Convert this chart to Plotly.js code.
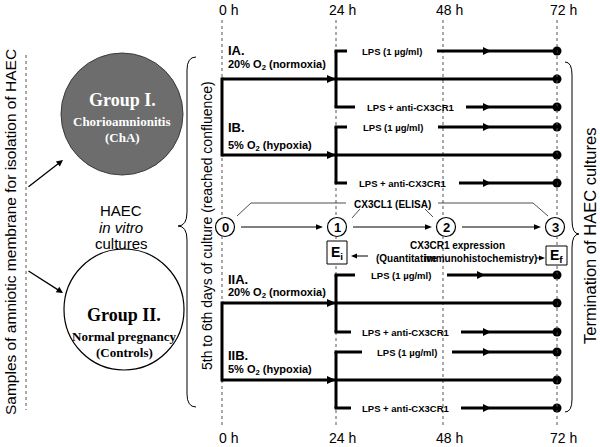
<!DOCTYPE html>
<html>
<head>
<meta charset="utf-8">
<script src="https://cdn.plot.ly/plotly-3.0.1.min.js"></script>
<style>
  html, body { margin: 0; padding: 0; background: #fff; }
  #chart { width: 600px; height: 447px; }
</style>
</head>
<body>
<div id="chart"></div>
<script>
// time axis
const hourLabels = ['0 h', '24 h', '48 h', '72 h'];
const hourX = [222, 336, 443, 557];

// culture arms
const arms = ['IA.', 'IB.', 'IIA.', 'IIB.'];
const oxygen = ['20% O<sub>2</sub> (normoxia)', '5% O<sub>2</sub> (hypoxia)',
                '20% O<sub>2</sub> (normoxia)', '5% O<sub>2</sub> (hypoxia)'];
const armY = [79, 155, 303, 380];
const armLabelY = [50, 127, 279, 355];
const oxyLabelY = [65, 146, 293, 370];

// treatments started at 24 h
const treatments = ['LPS (1 µg/ml)', 'LPS + anti-CX3CR1'];
const lpsY = [51, 127, 275, 352];
const antiY = [107, 183, 332, 408];
const lpsTickEnd = [347, 347, 355, 362];
const antiTickEnd = [355, 347, 351, 351];
const lpsLineStart = [437, 438, 447, 452];
const antiLineStart = [466, 459, 461, 461];
const lpsArrowX = [491, 491, 485, 491];
const antiArrowX = [491, 491, 491, 491];

// sampling steps
const steps = ['0', '1', '2', '3'];
const stepX = [225, 337, 446, 555];
const stepY = 227;

const SANS = 'Liberation Sans, Arial, sans-serif';
const SERIF = 'Liberation Serif, Times New Roman, serif';

const shapes = [];
const annotations = [];

const seg = (x0, y0, x1, y1, width, extra) =>
  shapes.push(Object.assign({ type: 'line', xref: 'x', yref: 'y', x0, y0, x1, y1,
    line: { color: '#000', width } }, extra || {}));
const tri = (x, y, len, h) =>
  shapes.push({ type: 'path', xref: 'x', yref: 'y',
    path: `M ${x - len},${y - h} L ${x},${y} L ${x - len},${y + h} Z`,
    fillcolor: '#000', line: { width: 0 } });
const txt = (x, y, text, size, extra) =>
  annotations.push(Object.assign({ x, y, xref: 'x', yref: 'y', text, showarrow: false,
    xanchor: 'center', yanchor: 'middle', borderpad: 0,
    font: { family: SANS, size, color: '#000' } }, extra || {}));

// dotted guides
hourX.forEach(x => seg(x, 20, x, 428, 1, { line: { color: '#555', width: 1, dash: 'dot' } }));
seg(26, 55, 26, 410, 1, { line: { color: '#555', width: 1, dash: 'dot' } });

// hour labels
hourX.forEach((x, i) => {
  txt(x + 6, 10, hourLabels[i], 14);
  txt(x + 6, 438, hourLabels[i], 14);
});

// arms
arms.forEach((a, i) => {
  seg(hourX[0], armY[i], hourX[3], armY[i], 3);
  tri(hourX[1], armY[i], 9, 4);
  seg(hourX[1], lpsY[i], hourX[1], antiY[i], 3);
  seg(hourX[1] - 1.5, lpsY[i], lpsTickEnd[i], lpsY[i], 3);
  seg(hourX[1] - 1.5, antiY[i], antiTickEnd[i], antiY[i], 3);
  seg(lpsLineStart[i], lpsY[i], hourX[3], lpsY[i], 3);
  seg(antiLineStart[i], antiY[i], hourX[3], antiY[i], 3);
  tri(lpsArrowX[i], lpsY[i], 8, 4);
  tri(antiArrowX[i], antiY[i], 8, 4);
  txt((lpsTickEnd[i] + lpsLineStart[i]) / 2, lpsY[i], '<b>' + treatments[0] + '</b>', 9.5);
  txt((antiTickEnd[i] + antiLineStart[i]) / 2, antiY[i], '<b>' + treatments[1] + '</b>', 9.5);
  txt(227, armLabelY[i], '<b>' + a + '</b>', 13, { xanchor: 'left' });
  txt(227, oxyLabelY[i], '<b>' + oxygen[i] + '</b>', 11, { xanchor: 'left' });
});
seg(hourX[0], armY[0] - 1.5, hourX[0], armY[1] + 1.5, 3);
seg(hourX[0], armY[2] - 1.5, hourX[0], armY[3] + 1.5, 3);

// CX3CL1 connectors
const poly = (pts) => shapes.push({ type: 'path', xref: 'x', yref: 'y',
  path: 'M ' + pts.map(p => p.join(',')).join(' L '), line: { color: '#222', width: 0.8 } });
poly([[stepX[0] + 12, 216], [251, 203], [346, 203]]);
poly([[stepX[1] + 15, 218], [360, 209]]);
poly([[425, 209], [stepX[2] - 13, 217]]);
poly([[438, 203], [533, 203], [stepX[3] - 7, 216]]);
txt(392, 204, '<b>CX3CL1 (ELISA)</b>', 10);

// step circles and arrows
steps.forEach((s, i) => {
  if (i < steps.length - 1) {
    const x0 = stepX[i] + 16, x1 = stepX[i + 1] - 14;
    seg(x0, stepY, x1 - 5, stepY, 1);
    tri(x1, stepY, 7, 2.8);
  }
  shapes.push({ type: 'circle', xref: 'x', yref: 'y',
    x0: stepX[i] - 9.5, x1: stepX[i] + 9.5, y0: stepY - 9.5, y1: stepY + 9.5,
    fillcolor: '#fff', line: { color: '#000', width: 1.2 } });
  txt(stepX[i], stepY + 0.5, '<b>' + s + '</b>', 13);
});

// expression boxes
shapes.push({ type: 'rect', xref: 'x', yref: 'y', x0: 327, x1: 347, y0: 241, y1: 264,
  fillcolor: '#fff', line: { color: '#000', width: 1 } });
shapes.push({ type: 'rect', xref: 'x', yref: 'y', x0: 546, x1: 567, y0: 246, y1: 265,
  fillcolor: '#fff', line: { color: '#000', width: 1 } });
txt(337, 253, '<b>E<sub>i</sub></b>', 14);
txt(556.5, 256, '<b>E<sub>f</sub></b>', 14);
seg(368, 256, 356, 256, 1);
tri(351, 256, -6, 2.6);
seg(536, 258, 540, 258, 1);
tri(545, 258, 6, 2.6);
txt(457, 245, '<b>CX3CR1 expression</b>', 10);
txt(375, 258, '<b>(Quantitative</b>', 10, { xanchor: 'left' });
txt(538, 258, '<b>immunohistochemistry)</b>', 10, { xanchor: 'right' });

// groups
shapes.push({ type: 'circle', xref: 'x', yref: 'y', x0: 61, x1: 183, y0: 53, y1: 175,
  fillcolor: '#6d6d6d', line: { color: '#3c3c3c', width: 1 } });
shapes.push({ type: 'circle', xref: 'x', yref: 'y', x0: 64, x1: 184, y0: 249, y1: 370,
  fillcolor: '#fff', line: { color: '#000', width: 1.2 } });
const serif = (x, y, text, size, color) => txt(x, y, '<b>' + text + '</b>', size,
  { font: { family: SERIF, size, color } });
serif(122, 100, 'Group I.', 18, '#fff');
serif(122, 121, 'Chorioamnionitis', 13, '#fff');
serif(122, 137, '(ChA)', 13, '#fff');
serif(124, 315, 'Group II.', 18, '#000');
serif(124, 336, 'Normal pregnancy', 13, '#000');
serif(124, 352, '(Controls)', 13, '#000');

txt(121, 210, 'HAEC', 15);
txt(121, 227, '<i>in vitro</i>', 15);
txt(121, 243, 'cultures', 15);

// arrows from samples to groups
[[27, 188, 63, 160], [27, 270, 63, 293]].forEach(([ax, ay, x, y]) =>
  annotations.push({ x, y, ax, ay, xref: 'x', yref: 'y', axref: 'x', ayref: 'y',
    text: '', showarrow: true, arrowhead: 2, arrowsize: 1, arrowwidth: 1.3, arrowcolor: '#000' }));

// braces
shapes.push({ type: 'path', xref: 'x', yref: 'y',
  path: 'M 196,57 Q 187,57 187,70 L 187,212 Q 187,226 178,226 Q 187,226 187,240 L 187,394 Q 187,407 196,407',
  line: { color: '#000', width: 1 } });
shapes.push({ type: 'path', xref: 'x', yref: 'y',
  path: 'M 565,62 Q 572,62 572,75 L 572,220 Q 572,234 579,234 Q 572,234 572,248 L 572,399 Q 572,412 565,412',
  line: { color: '#000', width: 1 } });

// rotated captions
txt(10, 232, 'Samples of amniotic membrane for isolation of HAEC', 15.5, { textangle: -90 });
txt(207, 226, '5th to 6th days of culture (reached confluence)', 14, { textangle: -90 });
txt(590, 236, 'Termination of HAEC cultures', 16.5, { textangle: -90 });

// end-of-culture points at 72 h
const endY = [...lpsY, ...armY, ...antiY];
const dots = {
  type: 'scatter', mode: 'markers',
  x: endY.map(() => hourX[3]), y: endY,
  marker: { color: '#000', size: 9 },
  hoverinfo: 'skip'
};

Plotly.newPlot('chart', [dots], {
  width: 600, height: 447,
  margin: { l: 0, r: 0, t: 0, b: 0 },
  paper_bgcolor: '#fff', plot_bgcolor: '#fff',
  xaxis: { range: [0, 600], visible: false, fixedrange: true },
  yaxis: { range: [447, 0], visible: false, fixedrange: true },
  showlegend: false,
  shapes, annotations
}, { staticPlot: true });
</script>
</body>
</html>
